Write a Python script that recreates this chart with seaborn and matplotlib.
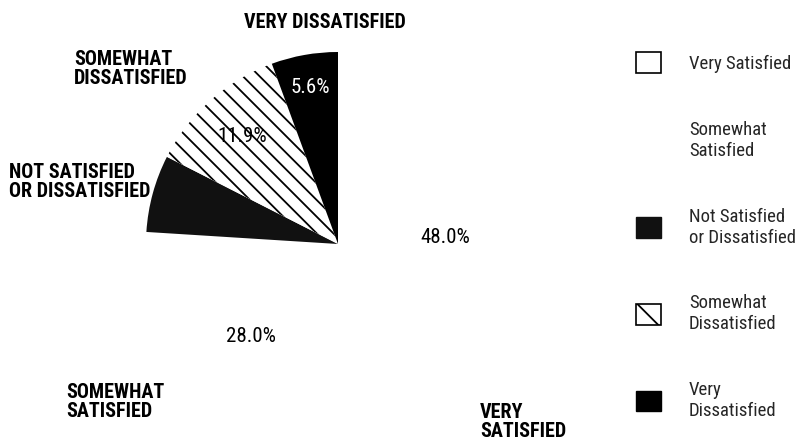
import matplotlib
matplotlib.use("Agg")
import matplotlib.pyplot as plt
from matplotlib import font_manager as fm
from matplotlib.patches import Patch
import numpy as np
import seaborn as sns

# ---- data ----
categories = ["Very Satisfied", "Somewhat Satisfied", "Not Satisfied or Dissatisfied",
              "Somewhat Dissatisfied", "Very Dissatisfied"]
legend_labels = ["Very Satisfied", "Somewhat\nSatisfied", "Not Satisfied\nor Dissatisfied",
                 "Somewhat\nDissatisfied", "Very\nDissatisfied"]
slice_labels = ["VERY\nSATISFIED", "SOMEWHAT\nSATISFIED", "NOT SATISFIED\nOR DISSATISFIED",
                "SOMEWHAT\nDISSATISFIED", "VERY DISSATISFIED"]
values = [48.0, 28.0, 6.5, 11.9, 5.6]
pct_text = ["48.0%", "28.0%", "", "11.9%", "5.6%"]

# ---- styles ----
face = ["white", "white", "#111111", "white", "black"]
hatches = [None, None, None, "\\\\", None]
pct_colors = ["black", "black", "black", "black", "white"]
pct_radius = [0.56, 0.66, 0.6, 0.75, 0.83]
label_pos = [(0.74, -0.927, "left"), (-1.417, -0.823, "left"), (-1.714, 0.323, "left"),
             (-1.375, 0.911, "left"), (-0.068, 1.156, "center")]

sns.set_theme(style="white")

def pick(cands):
    for c in cands:
        try:
            fm.findfont(fm.FontProperties(family=c), fallback_to_default=False)
            return c
        except Exception:
            pass
    return "DejaVu Sans"

fam = pick(["Liberation Sans Narrow", "DejaVu Sans Condensed", "Roboto Condensed", "Liberation Sans"])
plt.rcParams["font.family"] = [fam, "DejaVu Sans"]
plt.rcParams["hatch.linewidth"] = 1.3

fig = plt.figure(figsize=(8.03, 4.46), dpi=100)
ax = fig.add_axes([0, 0, 1, 1])

wedges, _ = ax.pie(values, startangle=90, counterclock=False, radius=1,
                   colors=face, wedgeprops=dict(linewidth=0))
for w, h in zip(wedges, hatches):
    if h:
        w.set_hatch(h)
        w.set_edgecolor("black")
        w.set_linewidth(0)

for w, t, c, r in zip(wedges, pct_text, pct_colors, pct_radius):
    if not t:
        continue
    ang = np.deg2rad((w.theta1 + w.theta2) / 2)
    ax.text(r * np.cos(ang), r * np.sin(ang), t, ha="center", va="center",
            color=c, fontsize=15)

for lab, (x, y, ha) in zip(slice_labels, label_pos):
    ax.text(x, y, lab, ha=ha, va="center", fontsize=14.5, fontweight="bold",
            linespacing=1.05, color="black")

R = 192.0
cx, cy = 338.0, 244.0
ax.set_xlim(-cx / R, (803 - cx) / R)
ax.set_ylim(-(446 - cy) / R, cy / R)
ax.set_aspect("equal")
ax.axis("off")

handles = [
    Patch(facecolor="white", edgecolor="black", linewidth=1.2),
    Patch(facecolor="white", edgecolor="white", linewidth=0),
    Patch(facecolor="#111111", edgecolor="#111111", linewidth=1),
    Patch(facecolor="white", edgecolor="black", linewidth=1.2, hatch="\\"),
    Patch(facecolor="black", edgecolor="black", linewidth=1),
]
ax.legend(handles, legend_labels, loc="upper left",
          bbox_to_anchor=(636 / 803, 1 - 52.5 / 446), bbox_transform=fig.transFigure,
          frameon=False, borderaxespad=0, borderpad=0, fontsize=13.5,
          handlelength=1.33, handleheight=1.33, handletextpad=1.5,
          labelspacing=2.55)

fig.savefig("out.png", dpi=100)
